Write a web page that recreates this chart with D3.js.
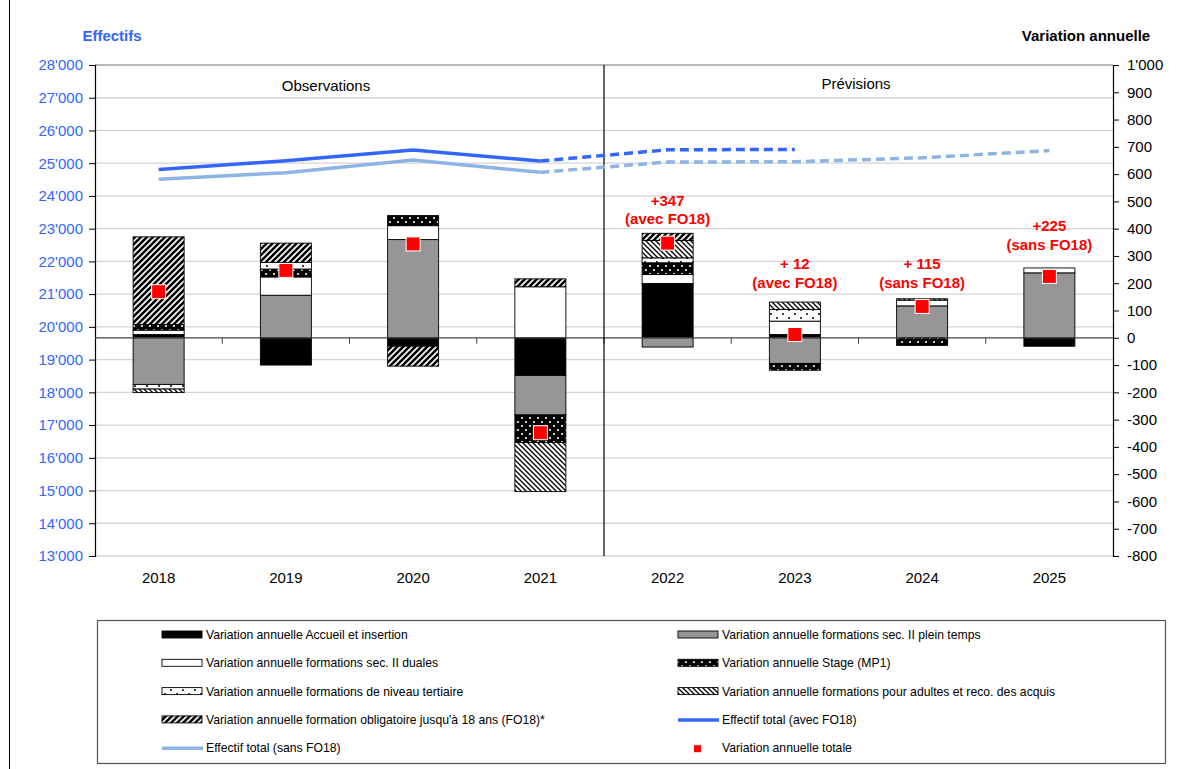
<!DOCTYPE html>
<html><head><meta charset="utf-8">
<script src="https://cdn.jsdelivr.net/npm/d3@7"></script>
<style>body{margin:0;background:#fff;} svg{display:block;font-family:Arial,"Liberation Sans",sans-serif;}</style>
</head><body>
<svg id="c" width="1181" height="769"></svg>
<script>
const years = ["2018","2019","2020","2021","2022","2023","2024","2025"];
const accueil    = [12, -100, -31, -138, 199, 12, 0, -31];
const pleinTemps = [-171, 156, 360, -145, -34, -94, 117, 238];
const duales     = [16, 67, 51, 187, 33, 49, 21, 18];
const stage      = [21, 29, 37, -101, 43, -25, -28, 0];
const tertiaire  = [-17, 24, 0, 0, 18, 43, 0, 0];
const adultes    = [-13, 0, 0, -180, 64, 27, 5, 0];
const fo18       = [321, 71, -73, 29, 26, 0, 0, 0];
const totalVar   = [169, 247, 344, -348, 347, 12, 115, 225];
const effAvec    = [24810, 25075, 25405, 25065, 25410, 25420, null, null];
const effSans    = [24510, 24710, 25100, 24720, 25035, 25045, 25165, 25385];
const leftTicks  = [13000,14000,15000,16000,17000,18000,19000,20000,21000,22000,23000,24000,25000,26000,27000,28000];
const rightTicks = [-800,-700,-600,-500,-400,-300,-200,-100,0,100,200,300,400,500,600,700,800,900,1000];
const annotations = [[4,"+347","(avec FO18)"],[5,"+ 12","(avec FO18)"],[6,"+ 115","(sans FO18)"],[7,"+225","(sans FO18)"]];
const seriesNames = ["Variation annuelle Accueil et insertion","Variation annuelle formations sec. II plein temps","Variation annuelle formations sec. II duales","Variation annuelle Stage (MP1)","Variation annuelle formations de niveau tertiaire","Variation annuelle formations pour adultes et reco. des acquis","Variation annuelle formation obligatoire jusqu'à 18 ans (FO18)*"];
const seriesData = [accueil, pleinTemps, duales, stage, tertiaire, adultes, fo18];
const fills = ["#000","#969696","#fff","url(#pStage)","url(#pTert)","url(#pAdul)","url(#pFO18)"];

const svg = d3.select("#c");
const x0=95,x1=1113,yTop=65,yBot=556;
const x = d3.scaleBand().domain(years).range([x0,x1]);
const yL = d3.scaleLinear().domain([13000,28000]).range([yBot,yTop]);
const yR = d3.scaleLinear().domain([-800,1000]).range([yBot,yTop]);
const fmt = v => { const s=Math.abs(v).toString(); const t = s.length>3 ? s.slice(0,s.length-3)+"'"+s.slice(-3) : s; return (v<0?"-":"")+t; };

const defs = svg.append("defs");
let p = defs.append("pattern").attr("id","pStage").attr("patternUnits","userSpaceOnUse").attr("width",8).attr("height",8);
p.append("rect").attr("width",8).attr("height",8).attr("fill","#000");
p.append("circle").attr("cx",2).attr("cy",2).attr("r",1.1).attr("fill","#fff");
p.append("circle").attr("cx",6).attr("cy",6).attr("r",1.1).attr("fill","#fff");
p = defs.append("pattern").attr("id","pTert").attr("patternUnits","userSpaceOnUse").attr("width",12).attr("height",8);
p.append("rect").attr("width",12).attr("height",8).attr("fill","#fff");
p.append("circle").attr("cx",3).attr("cy",2).attr("r",1).attr("fill","#000");
p.append("circle").attr("cx",9).attr("cy",6).attr("r",1).attr("fill","#000");
p = defs.append("pattern").attr("id","pAdul").attr("patternUnits","userSpaceOnUse").attr("width",5).attr("height",5);
p.append("rect").attr("width",5).attr("height",5).attr("fill","#fff");
p.append("path").attr("d","M0,0L5,5M-1,4L1,6M4,-1L6,1").attr("stroke","#000").attr("stroke-width",1.3);
p = defs.append("pattern").attr("id","pFO18").attr("patternUnits","userSpaceOnUse").attr("width",6).attr("height",6);
p.append("rect").attr("width",6).attr("height",6).attr("fill","#fff");
p.append("path").attr("d","M0,6L6,0M-1,1L1,-1M5,7L7,5").attr("stroke","#000").attr("stroke-width",2.6);

// outer frame (left edge visible)
svg.append("line").attr("x1",9.5).attr("x2",9.5).attr("y1",0).attr("y2",769).attr("stroke","#000").attr("stroke-width",1);

// gridlines
svg.append("g").selectAll("line").data(leftTicks).join("line")
  .attr("x1",x0).attr("x2",x1).attr("y1",d=>yL(d)).attr("y2",d=>yL(d))
  .attr("stroke",d=> d===28000?"#a0a0a0":"#d4d4d4").attr("stroke-width",1.3);

// left axis
const gl = svg.append("g").attr("transform",`translate(${x0},0)`)
  .call(d3.axisLeft(yL).tickValues(leftTicks).tickSize(6).tickPadding(6).tickFormat(fmt));
gl.select(".domain").attr("stroke","#000").attr("stroke-width",1.2);
gl.selectAll(".tick line").attr("stroke","#000");
gl.selectAll("text").attr("fill","#3366FF").attr("font-size",15).attr("font-family","Arial,'Liberation Sans',sans-serif");
// right axis
const gr = svg.append("g").attr("transform",`translate(${x1},0)`)
  .call(d3.axisRight(yR).tickValues(rightTicks).tickSize(6).tickPadding(8).tickFormat(fmt));
gr.select(".domain").attr("stroke","#000").attr("stroke-width",1.2);
gr.selectAll(".tick line").attr("stroke","#000");
gr.selectAll("text").attr("fill","#000").attr("font-size",15).attr("font-family","Arial,'Liberation Sans',sans-serif");

// axis titles
svg.append("text").attr("x",112).attr("y",41).attr("text-anchor","middle").attr("font-weight","bold").attr("font-size",15).attr("fill","#3366FF").text("Effectifs");
svg.append("text").attr("x",1086).attr("y",41).attr("text-anchor","middle").attr("font-weight","bold").attr("font-size",15).attr("fill","#000").text("Variation annuelle");

// bars
const barW = 51;
const gb = svg.append("g");
years.forEach((yr,i)=>{
  let pos=0,neg=0;
  seriesData.forEach((arr,s)=>{
    const v=arr[i]; if(!v) return;
    let a,b;
    if(v>0){a=pos;b=pos+v;pos=b;} else {a=neg;b=neg+v;neg=b;}
    gb.append("rect").attr("x",x(yr)+x.bandwidth()/2-barW/2).attr("width",barW)
      .attr("y",yR(Math.max(a,b))).attr("height",Math.abs(yR(a)-yR(b)))
      .attr("fill",fills[s]).attr("stroke","#000").attr("stroke-width",0.9);
  });
});

// zero line with ticks
svg.append("line").attr("x1",x0).attr("x2",x1).attr("y1",yR(0)).attr("y2",yR(0)).attr("stroke","#444").attr("stroke-width",1.2);
svg.append("g").selectAll("line").data(years.slice(1)).join("line")
  .attr("x1",d=>x(d)).attr("x2",d=>x(d)).attr("y1",yR(0)).attr("y2",yR(0)+6).attr("stroke","#444");

// divider
svg.append("line").attr("x1",x("2022")).attr("x2",x("2022")).attr("y1",yTop).attr("y2",yBot).attr("stroke","#000").attr("stroke-width",1.2);
svg.append("text").attr("x",326).attr("y",91).attr("text-anchor","middle").attr("font-size",15).text("Observations");
svg.append("text").attr("x",856).attr("y",89).attr("text-anchor","middle").attr("font-size",15).text("Prévisions");

// x labels
svg.append("g").selectAll("text").data(years).join("text")
  .attr("x",d=>x(d)+x.bandwidth()/2).attr("y",583).attr("text-anchor","middle").attr("font-size",15).text(d=>d);

// lines
const cx = i => x(years[i])+x.bandwidth()/2;
const lineGen = () => d3.line().x(d=>cx(d.i)).y(d=>yL(d.v));
function drawLine(arr,color){
  const pts = arr.map((v,i)=>({i,v}));
  const solid = pts.slice(0,4), dashed = pts.slice(3).filter(d=>d.v!=null);
  svg.append("path").datum(solid).attr("d",lineGen()).attr("fill","none").attr("stroke",color).attr("stroke-width",3.5);
  svg.append("path").datum(dashed).attr("d",lineGen()).attr("fill","none").attr("stroke",color).attr("stroke-width",3.5).attr("stroke-dasharray","9,5");
}
drawLine(effSans,"#8DB4E2");
drawLine(effAvec,"#3366FF");

// markers
svg.append("g").selectAll("rect").data(totalVar).join("rect")
  .attr("x",(d,i)=>cx(i)-7).attr("y",d=>yR(d)-7).attr("width",14).attr("height",14)
  .attr("fill","#FF0000").attr("stroke","#fff").attr("stroke-width",1);

// annotations
const annY = {4:[206,224],5:[269,288],6:[269,288],7:[231,250]};
annotations.forEach(([i,a,b])=>{
  svg.append("text").attr("x",cx(i)).attr("y",annY[i][0]).attr("text-anchor","middle").attr("font-weight","bold").attr("font-size",15).attr("fill","#FF0000").text(a);
  svg.append("text").attr("x",cx(i)).attr("y",annY[i][1]).attr("text-anchor","middle").attr("font-weight","bold").attr("font-size",15).attr("fill","#FF0000").text(b);
});

// legend
svg.append("rect").attr("x",97.5).attr("y",620.5).attr("width",1068).attr("height",143).attr("fill","#fff").attr("stroke","#555").attr("stroke-width",1.2);
const legItems = [
  {n:seriesNames[0],t:"rect",f:fills[0]},{n:seriesNames[1],t:"rect",f:fills[1]},
  {n:seriesNames[2],t:"rect",f:fills[2]},{n:seriesNames[3],t:"rect",f:fills[3]},
  {n:seriesNames[4],t:"rect",f:fills[4]},{n:seriesNames[5],t:"rect",f:fills[5]},
  {n:seriesNames[6],t:"rect",f:fills[6]},{n:"Effectif total (avec FO18)",t:"line",f:"#3366FF"},
  {n:"Effectif total (sans FO18)",t:"line",f:"#8DB4E2"},{n:"Variation annuelle totale",t:"mark",f:"#FF0000"}
];
legItems.forEach((d,k)=>{
  const col=k%2,row=Math.floor(k/2);
  const sx = col===0?162:678, ty = 635+row*28.3;
  const g = svg.append("g");
  if(d.t==="rect") g.append("rect").attr("x",sx).attr("y",ty-4).attr("width",40).attr("height",7).attr("fill",d.f).attr("stroke","#000").attr("stroke-width",0.9);
  else if(d.t==="line") g.append("line").attr("x1",sx).attr("x2",sx+41).attr("y1",ty).attr("y2",ty).attr("stroke",d.f).attr("stroke-width",3.5);
  else g.append("rect").attr("x",sx+16).attr("y",ty-3).attr("width",7).attr("height",7).attr("fill",d.f);
  g.append("text").attr("x",sx+44).attr("y",ty+4).attr("font-size",12.2).attr("fill","#000").text(d.n);
});
</script>
</body></html>
